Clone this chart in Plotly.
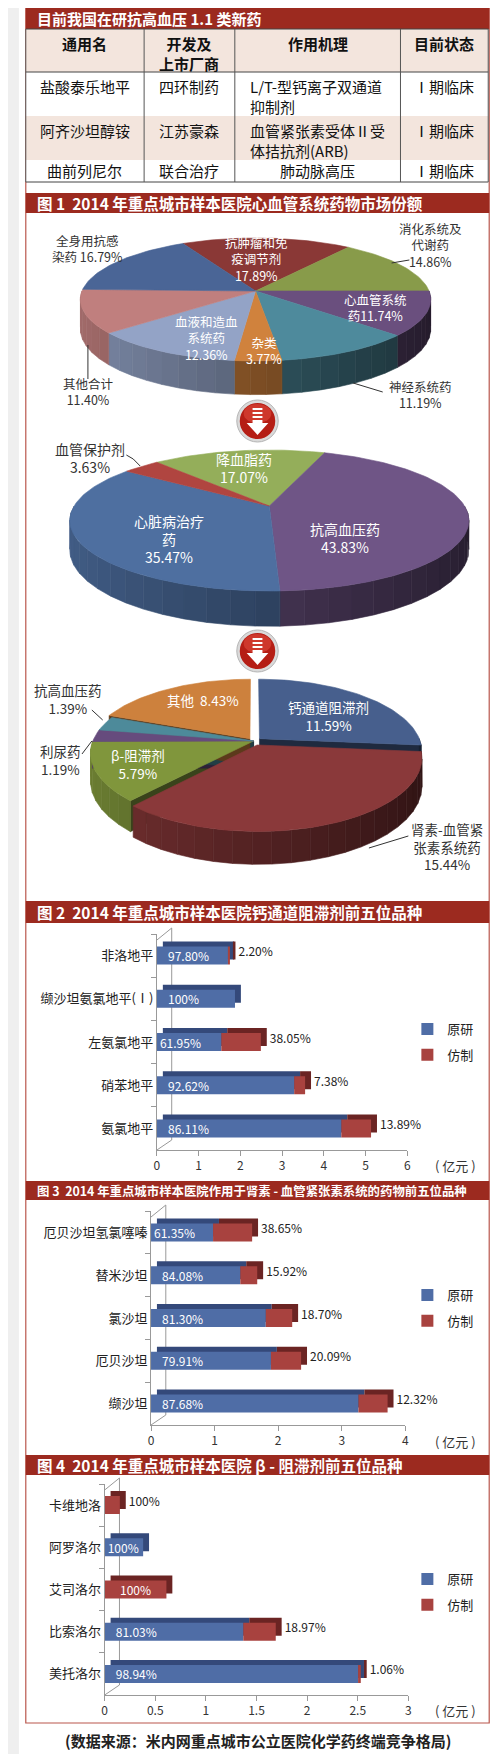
import numpy as np
import plotly.graph_objects as go

W, H = 500, 1754
FONT = "Noto Sans CJK SC"
NBSP = "\u00a0"

# ---------------- data ----------------
table_header = ["通用名", "开发及<br>上市厂商", "作用机理", "目前状态"]
drug_names = ["盐酸泰乐地平", "阿齐沙坦醇铵", "曲前列尼尔"]
developers = ["四环制药", "江苏豪森", "联合治疗"]
mechanisms = ["L/T-型钙离子双通道<br>抑制剂", "血管紧张素受体Ⅱ受<br>体拮抗剂(ARB)", "肺动脉高压"]
stages = ["Ⅰ期临床", "Ⅰ期临床", "Ⅰ期临床"]

# fig 1: cardiovascular share among all drugs (clockwise from top)
pie1_labels = ["抗肿瘤和免疫调节剂", "消化系统及代谢药", "心血管系统药", "神经系统药",
               "杂类", "血液和造血系统药", "其他合计", "全身用抗感染药"]
pie1_values = [17.89, 14.86, 11.74, 11.19, 3.77, 12.36, 11.40, 16.79]

pie2_labels = ["降血脂药", "抗高血压药", "心脏病治疗药", "血管保护剂"]
pie2_values = [17.07, 43.83, 35.47, 3.63]

pie3_labels = ["钙通道阻滞剂", "肾素-血管紧张素系统药", "β-阻滞剂", "利尿药", "抗高血压药", "其他"]
pie3_values = [11.59, 15.44, 5.79, 1.19, 1.39, 8.43]

# fig 2: calcium channel blockers (亿元 total, share of 原研 / 仿制)
ccb_names = ["非洛地平", "缬沙坦氨氯地平(Ⅰ)", "左氨氯地平", "硝苯地平", "氨氯地平"]
ccb_total = [1.74, 1.87, 2.49, 3.55, 5.13]
ccb_orig_pct = [97.80, 100, 61.95, 92.62, 86.11]
ccb_gen_pct = [2.20, 0, 38.05, 7.38, 13.89]

# fig 3: RAS drugs
ras_names = ["厄贝沙坦氢氯噻嗪", "替米沙坦", "氯沙坦", "厄贝沙坦", "缬沙坦"]
ras_total = [1.59, 1.67, 2.22, 2.36, 3.72]
ras_orig_pct = [61.35, 84.08, 81.30, 79.91, 87.68]
ras_gen_pct = [38.65, 15.92, 18.70, 20.09, 12.32]

# fig 4: beta blockers
bb_names = ["卡维地洛", "阿罗洛尔", "艾司洛尔", "比索洛尔", "美托洛尔"]
bb_total = [0.15, 0.38, 0.61, 1.69, 2.53]
bb_orig_pct = [0, 100, 0, 81.03, 98.94]
bb_gen_pct = [100, 0, 100, 18.97, 1.06]

source_note = "(数据来源：米内网重点城市公立医院化学药终端竞争格局)"

# ---------------- style ----------------
BAR_RED = "#9C2A1F"
BLUE, BLUE_D = "#4F6DA6", "#34497A"
RED, RED_D = "#A8423F", "#6B2423"
pie1_colors = ["#8A3836", "#889B4A", "#6A4F7E", "#4E8A9C", "#D0823D", "#93A3C6", "#C07F7E", "#4A6596"]
pie2_colors = ["#94AE5A", "#6F5586", "#4E6FA0", "#B04540"]
pie3_colors = ["#475F8D", "#8A393A", "#80963C", "#664B7D", "#4D8A9A", "#CD813D"]


def X(p):
    return p / W


def Y(p):
    return 1 - p / H


def shade(hexcol, f):
    h = hexcol.lstrip("#")
    r, g, b = (int(h[i:i + 2], 16) for i in (0, 2, 4))
    return f"rgb({int(r * f)},{int(g * f)},{int(b * f)})"


def fmt_pct(p):
    return "100%" if p == 100 else f"{p:.2f}%"


def wrap(s, n):
    return "<br>".join(s[i:i + n] for i in range(0, len(s), n))


def note(x, y, text, size, color="#333", **kw):
    d = dict(x=X(x), y=Y(y), xref="paper", yref="paper", showarrow=False, text=text,
             xanchor="center", yanchor="middle", align="center",
             font=dict(family=FONT, size=size, color=color))
    d.update(kw)
    return d


fig = go.Figure()
shapes, annotations = [], []
layout_axes = {}

# card + frame
shapes.append(dict(type="rect", xref="paper", yref="paper", x0=X(11), x1=X(495), y0=Y(1750), y1=Y(-5),
                   fillcolor="#D6D6D6", line_width=0, layer="below"))
shapes.append(dict(type="rect", xref="paper", yref="paper", x0=X(8), x1=X(492), y0=Y(1746), y1=Y(-5),
                   fillcolor="white", line_width=0, layer="below"))
shapes.append(dict(type="rect", xref="paper", yref="paper", x0=X(15), x1=X(485), y0=Y(1715), y1=Y(0),
                   fillcolor="rgba(0,0,0,0)", line=dict(color="#B9574D", width=1.2), layer="below"))

# title bars
title_bars = [(0, 21, "目前我国在研抗高血压 1.1 类新药", 15),
              (185, 205, "图 1" + NBSP + " 2014 年重点城市样本医院心血管系统药物市场份额", 15.5),
              (893, 915, "图 2" + NBSP + " 2014 年重点城市样本医院钙通道阻滞剂前五位品种", 15.5),
              (1173, 1192, "图 3" + NBSP + " 2014 年重点城市样本医院作用于肾素 - 血管紧张素系统的药物前五位品种", 12.4),
              (1447, 1467, "图 4" + NBSP + " 2014 年重点城市样本医院 β - 阻滞剂前五位品种", 15.5)]
for t0, t1, txt, fs in title_bars:
    shapes.append(dict(type="rect", xref="paper", yref="paper", x0=X(15), x1=X(485), y0=Y(t1), y1=Y(t0),
                       fillcolor=BAR_RED, line_width=0))
    annotations.append(note(24, (t0 + t1) / 2, f"<b>{txt}</b>", fs, "white", xanchor="left"))

# ---------------- table ----------------
col_x = [15, 135, 227, 395, 484]
row_y = [21, 64, 108, 152, 174]
row_fill = ["#F3E5DD", "white", "#F3E5DD", "white"]
rows = [table_header] + [list(r) for r in zip(drug_names, developers, mechanisms, stages)]
for r in range(len(rows)):
    shapes.append(dict(type="rect", xref="paper", yref="paper", x0=X(col_x[0]), x1=X(col_x[-1]),
                       y0=Y(row_y[r + 1]), y1=Y(row_y[r]), fillcolor=row_fill[r], line_width=0))
for yy in (row_y[0], row_y[1], row_y[-1]):
    shapes.append(dict(type="line", xref="paper", yref="paper", x0=X(col_x[0]), x1=X(col_x[-1]),
                       y0=Y(yy), y1=Y(yy), line=dict(color="#444", width=1)))
for xx in col_x:
    shapes.append(dict(type="line", xref="paper", yref="paper", x0=X(xx), x1=X(xx),
                       y0=Y(row_y[-1]), y1=Y(row_y[0]), line=dict(color="#555", width=1)))
for r, cells in enumerate(rows):
    single = all("<br>" not in c for c in cells) and r > 0
    for c, txt in enumerate(cells):
        left = (c == 2 and r > 0 and "<br>" in txt)
        xpos = col_x[c] + 13 if left else (col_x[c] + col_x[c + 1]) / 2
        if single:
            ypos, ya = (row_y[r] + row_y[r + 1]) / 2, "middle"
        else:
            ypos, ya = row_y[r] + 2, "top"
        annotations.append(note(xpos, ypos, f"<b>{txt}</b>" if r == 0 else txt, 15, "#111",
                                xanchor="left" if left else "center", yanchor=ya,
                                align="left" if left else "center"))


# ---------------- 3D pies ----------------
def add_pie(n, values, colors, cx, cy, rx, ry, k, depth, start, pulls):
    xa, ya = ("x", "y") if n == 1 else (f"x{n}", f"y{n}")
    dn = depth / ry
    fr = np.asarray(values, float) / sum(values)
    edges = start - 360 * np.concatenate([[0], np.cumsum(fr)])

    def proj(u, v, h=0.0):
        d = 1 + k * v
        return u / d, (v + h) / d

    faces, walls, tops = [], [], []
    for i in range(len(values)):
        a0, a1 = edges[i], edges[i + 1]
        m = np.radians((a0 + a1) / 2)
        ou, ov = pulls[i] * np.cos(m), pulls[i] * np.sin(m)
        col = colors[i]
        t = np.radians(np.linspace(a0, a1, max(4, int((a0 - a1) / 1.5))))
        x, y = proj(np.r_[ou, ou + np.cos(t), ou], np.r_[ov, ov + np.sin(t), ov])
        tops.append((x, y, col))
        for kk in range(-2, 2):
            lo, hi = max(a1, 180 + 360 * kk), min(a0, 360 + 360 * kk)
            if hi <= lo:
                continue
            bnds = np.linspace(lo, hi, int(np.ceil((hi - lo) / 6)) + 1)
            for s0, s1 in zip(bnds[:-1], bnds[1:]):
                tt = np.radians(np.linspace(s0, s1, 5))
                uu, vv = ou + np.cos(tt), ov + np.sin(tt)
                xt, yt = proj(uu, vv)
                xb, yb = proj(uu, vv, -dn)
                f = 0.85 - 0.5 * (np.cos(tt).mean() + 1) / 2
                walls.append((np.r_[xt, xb[::-1], xt[:1]], np.r_[yt, yb[::-1], yt[:1]], shade(col, f)))
        if any(pulls):
            for a, vis in ((a0, np.cos(np.radians(a0)) < 0), (a1, np.cos(np.radians(a1)) > 0)):
                if not vis:
                    continue
                ra = np.radians(a)
                uu = np.array([ou, ou + np.cos(ra)])
                vv = np.array([ov, ov + np.sin(ra)])
                xt, yt = proj(uu, vv)
                xb, yb = proj(uu, vv, -dn)
                faces.append((np.r_[xt, xb[::-1], xt[:1]], np.r_[yt, yb[::-1], yt[:1]], shade(col, 0.45)))
    for x, y, c in faces + walls + tops:
        fig.add_trace(go.Scatter(x=x, y=y, mode="lines", fill="toself", fillcolor=c,
                                 line=dict(color=c, width=0.6), hoverinfo="skip", showlegend=False,
                                 xaxis=xa, yaxis=ya))
    ytop, ybot = 1.3, -(1 + dn) / (1 - k) - 0.15
    sfx = "" if n == 1 else str(n)
    layout_axes["xaxis" + sfx] = dict(domain=[X(cx - 1.15 * rx), X(cx + 1.15 * rx)], range=[-1.15, 1.15],
                                      visible=False, fixedrange=True, anchor=ya)
    layout_axes["yaxis" + sfx] = dict(domain=[Y(cy - ybot * ry), Y(cy - ytop * ry)], range=[ybot, ytop],
                                      visible=False, fixedrange=True, anchor=xa)


add_pie(1, pie1_values, pie1_colors, 248, 283, 176, 60.3, 0.138, 29, 118, [0] * 8)
add_pie(2, pie2_values, pie2_colors, 262, 498, 198, 67.5, 0.206, 28, 131.7, [0] * 4)
add_pie(3, pie3_values, pie3_colors, 246, 733, 163, 70.3, 0.17, 27, 90, [0.05, 0.06, 0, 0, 0, 0.04])

# pie labels: (x, y, inside, separator before value, wrap width)
pie1_spec = [(249, 251, True, "<br>", 5), (425, 237, False, "<br>", 5), (370, 299, True, "", 5),
             (415, 387, False, "<br>", 5), (257, 342, True, "<br>", 5), (198, 330, True, "<br>", 5),
             (78, 383, False, "<br>", 5), (78, 240, False, " ", 5)]
pie2_spec = [(236, 460, True, "<br>", 5), (339, 530, True, "<br>", 5), (160, 531, True, "<br>", 5),
             (80, 450, False, "<br>", 5)]
pie3_spec = [(322, 708, True, "<br>", 6), (442, 838, False, "<br>", 6), (129, 756, True, "<br>", 6),
             (50, 752, False, "<br>", 6), (58, 691, False, "<br>", 6), (195, 692, True, NBSP + " ", 6)]
for names, vals, spec, fs in ((pie1_labels, pie1_values, pie1_spec, 12.5),
                              (pie2_labels, pie2_values, pie2_spec, 14),
                              (pie3_labels, pie3_values, pie3_spec, 13.5)):
    for name, v, (lx, ly, inside, sep, wn) in zip(names, vals, spec):
        annotations.append(note(lx, ly, wrap(name, wn) + sep + f"{v:.2f}%", fs,
                                "white" if inside else "#333"))

leaders = [[(386, 255), (404, 252)], [(347, 375), (377, 384)], [(78, 337), (78, 371)],
           [(117, 447), (124, 451), (131, 458)],
           [(82, 702), (93, 712)], [(72, 746), (82, 733)], [(403, 828), (363, 840)]]
for pts in leaders:
    path = "M " + " L ".join(f"{X(a):.5f},{Y(b):.5f}" for a, b in pts)
    shapes.append(dict(type="path", xref="paper", yref="paper", path=path, line=dict(color="#333", width=1)))


# down-arrow icons between the pies
def icon(cx, cy):
    out = [dict(type="circle", xref="paper", yref="paper", x0=X(cx - 21), x1=X(cx + 21), y0=Y(cy + 21),
                y1=Y(cy - 21), fillcolor="#DADADA", line=dict(color="#B5B5B5", width=1)),
           dict(type="circle", xref="paper", yref="paper", x0=X(cx - 18), x1=X(cx + 18), y0=Y(cy + 18),
                y1=Y(cy - 18), fillcolor="#B51E15", line_width=0),
           dict(type="circle", xref="paper", yref="paper", x0=X(cx - 14), x1=X(cx + 14), y0=Y(cy + 2),
                y1=Y(cy - 17), fillcolor="#E0493C", opacity=0.6, line_width=0)]
    polys = [[(-5, -13), (5, -13), (5, -11), (-5, -11)], [(-5, -9), (5, -9), (5, -7), (-5, -7)],
             [(-5, -5), (5, -5), (5, -3), (-5, -3)],
             [(-5, -1), (5, -1), (5, 2), (11, 2), (0, 14), (-11, 2), (-5, 2)]]
    for poly in polys:
        path = "M " + " L ".join(f"{X(cx + a):.5f},{Y(cy + b):.5f}" for a, b in poly) + " Z"
        out.append(dict(type="path", xref="paper", yref="paper", path=path, fillcolor="white", line_width=0))
    return out


shapes += icon(250, 413) + icon(250, 643)


# ---------------- bar charts ----------------
def add_bar_chart(n, lg, names, total, orig_pct, gen_pct, box, xmax, dtick, unit_y):
    x0, x1, y0, y1 = box
    orig = [t * p / 100 for t, p in zip(total, orig_pct)]
    gen = [t * p / 100 for t, p in zip(total, gen_pct)]
    ppu = (x1 - x0) / xmax
    pcat = (y1 - y0) / len(names)
    dx, dy, bw = 6 / ppu, 5 / pcat, 18 / pcat
    xa, ya = f"x{n}", f"y{n}"
    common = dict(y=names, orientation="h", width=bw, xaxis=xa, yaxis=ya, hoverinfo="skip",
                  cliponaxis=False, constraintext="none")
    gen_inside = [o == 0 and g * ppu > 45 for o, g in zip(orig, gen)]
    gen_out = ["" if (g == 0 or ins) else fmt_pct(p) for g, p, ins in zip(gen, gen_pct, gen_inside)]
    gen_in = [fmt_pct(p) if ins else "" for p, ins in zip(gen_pct, gen_inside)]
    orig_txt = ["" if o == 0 else (NBSP * 3 if o * ppu > 70 else "") + fmt_pct(p)
                for o, p in zip(orig, orig_pct)]
    fig.add_trace(go.Bar(x=orig, base=[dx] * len(names), offset=-bw / 2 - dy,
                         marker=dict(color=BLUE_D, line_width=0), showlegend=False, **common))
    fig.add_trace(go.Bar(x=gen, base=[o + dx for o in orig], offset=-bw / 2 - dy,
                         marker=dict(color=RED_D, line_width=0), text=gen_out, textposition="outside",
                         textfont=dict(family=FONT, size=12, color="#222"), showlegend=False, **common))
    fig.add_trace(go.Bar(x=orig, base=[0] * len(names), offset=-bw / 2, marker=dict(color=BLUE, line_width=0),
                         text=orig_txt, textposition="inside", insidetextanchor="start",
                         textfont=dict(family=FONT, size=12, color="white"), name="原研", legend=lg,
                         legendgroup=f"o{n}", **common))
    fig.add_trace(go.Bar(x=gen, base=orig, offset=-bw / 2, marker=dict(color=RED, line_width=0),
                         text=gen_in, textposition="inside", insidetextanchor="middle",
                         textfont=dict(family=FONT, size=12, color="white"), name="仿制", legend=lg,
                         legendgroup=f"g{n}", **common))
    layout_axes[f"xaxis{n}"] = dict(domain=[X(x0), X(x1)], range=[0, xmax], dtick=dtick, anchor=ya,
                                    showline=True, linecolor="#999", linewidth=1, ticks="outside", ticklen=5,
                                    tickcolor="#999", showgrid=False, zeroline=False, fixedrange=True,
                                    tickfont=dict(family=FONT, size=12, color="#333"))
    layout_axes[f"yaxis{n}"] = dict(domain=[Y(y1), Y(y0)], type="category", range=[len(names) - 0.5, -0.5],
                                    anchor=xa, showline=True, linecolor="#999", linewidth=1, ticks="outside",
                                    ticklen=5, tickcolor="#999", tickson="boundaries", showgrid=False,
                                    fixedrange=True, tickfont=dict(family=FONT, size=13, color="#222"))
    # 3D wall outline
    for (ax0, ay0), (ax1, ay1) in (((x0, y1), (x0 + 15, y1 - 10)), ((x0 + 15, y1 - 10), (x0 + 15, y0 - 6)),
                                   ((x0, y0 + 6), (x0 + 15, y0 - 6))):
        shapes.append(dict(type="line", xref="paper", yref="paper", x0=X(ax0), x1=X(ax1), y0=Y(ay0), y1=Y(ay1),
                           line=dict(color="#999", width=1), layer="below"))
    annotations.append(note(451, unit_y, "( 亿元 )", 13))


add_bar_chart(4, "legend", ccb_names, ccb_total, ccb_orig_pct, ccb_gen_pct, (148, 402, 926, 1142), 6, 1, 1157)
add_bar_chart(5, "legend2", ras_names, ras_total, ras_orig_pct, ras_gen_pct, (142, 400, 1203, 1417), 4, 1, 1433)
add_bar_chart(6, "legend3", bb_names, bb_total, bb_orig_pct, bb_gen_pct, (95, 403, 1476, 1687), 3, 0.5, 1702)

annotations.append(note(250, 1732, f"<b>{source_note}</b>", 15, "#222"))

legend_style = dict(xanchor="left", yanchor="top", bgcolor="rgba(0,0,0,0)", tracegroupgap=6,
                    traceorder="grouped", itemwidth=30, font=dict(family=FONT, size=13, color="#222"))

fig.update_layout(
    width=W, height=H, margin=dict(l=0, r=0, t=0, b=0),
    paper_bgcolor="#EFEFEF", plot_bgcolor="rgba(0,0,0,0)",
    barmode="overlay", showlegend=True,
    legend=dict(x=X(402), y=Y(1006), **legend_style),
    legend2=dict(x=X(402), y=Y(1272), **legend_style),
    legend3=dict(x=X(402), y=Y(1556), **legend_style),
    shapes=shapes, annotations=annotations,
    **layout_axes
)

fig.write_html("out.html")
